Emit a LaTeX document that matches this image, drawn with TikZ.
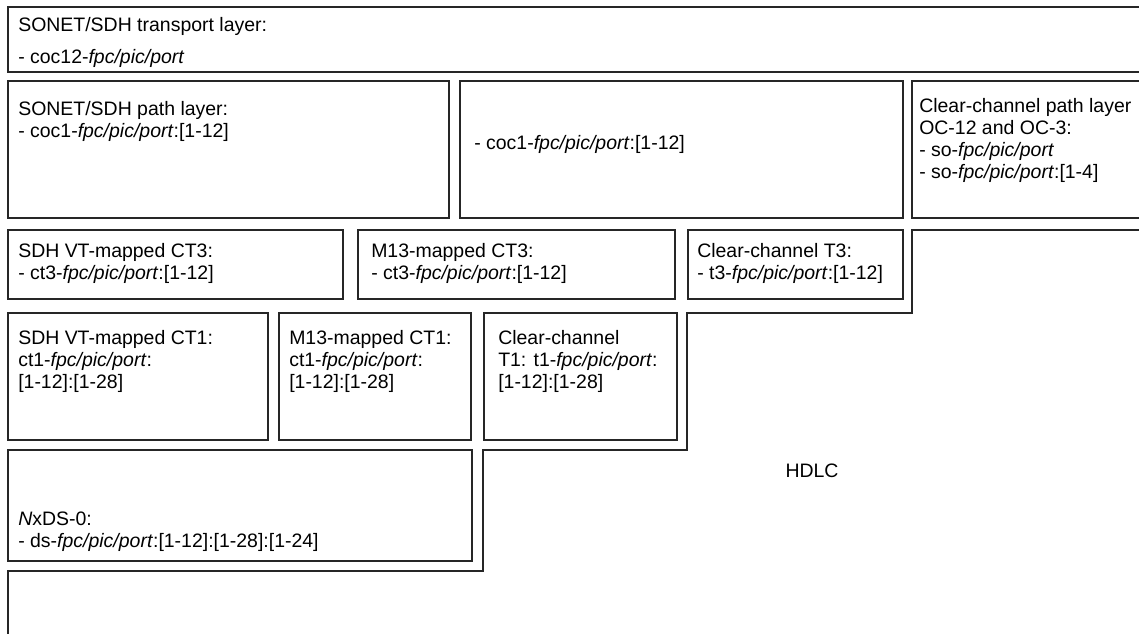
\documentclass[tikz,border=0pt]{standalone}
\usepackage{fontspec}
\setmainfont{Liberation Sans}
\begin{document}
\begin{tikzpicture}[x=0.75pt,y=-0.75pt,
  box/.style={draw=black!85,line width=0.9pt},
  lbl/.style={anchor=base west,inner sep=0pt,font=\fontsize{14.6}{16.5}\selectfont},
]
\newcommand{\fpp}{\textit{fpc/pic/port}}
\useasboundingbox (0,0) rectangle (1139,633);
% boxes
\draw[box] (8,7) rectangle (1150,72);
\draw[box] (8,81) rectangle (449,218);
\draw[box] (460,81) rectangle (903,218);
\draw[box] (912,81) rectangle (1150,218);
\draw[box] (8,230) rectangle (343,299);
\draw[box] (358,230) rectangle (675,299);
\draw[box] (688,230) rectangle (903,299);
\draw[box] (8,313) rectangle (268,440);
\draw[box] (279,313) rectangle (471,440);
\draw[box] (484,313) rectangle (677,440);
\draw[box] (8,450) rectangle (472,561);
% HDLC staircase region
\draw[box] (1150,230) -- (912,230) -- (912,313) -- (687,313) -- (687,450)
  -- (483,450) -- (483,571) -- (8,571) -- (8,645);
% texts
\node[lbl] (tr1) at (18,31) {SONET/SDH transport layer:};
\node[lbl] (tr2) at (18,63) {- coc12-\fpp};
\node[lbl] (pl1) at (18,115) {SONET/SDH path layer:};
\node[lbl] (pl2) at (18,137) {- coc1-\fpp:[1-12]};
\node[lbl] (pm1) at (474,149) {- coc1-\fpp:[1-12]};
\node[lbl] (pr1) at (919,112) {Clear-channel path layer};
\node[lbl] (pr2) at (919,134) {OC-12 and OC-3:};
\node[lbl] (pr3) at (919,156) {- so-\fpp};
\node[lbl] (pr4) at (919,178) {- so-\fpp:[1-4]};
\node[lbl] (a1) at (18,257) {SDH VT-mapped CT3:};
\node[lbl] (a2) at (18,279) {- ct3-\fpp:[1-12]};
\node[lbl] (b1) at (371,257) {M13-mapped CT3:};
\node[lbl] (b2) at (371,279) {- ct3-\fpp:[1-12]};
\node[lbl] (c1) at (697,257) {Clear-channel T3:};
\node[lbl] (c2) at (697,279) {- t3-\fpp:[1-12]};
\node[lbl] (d1) at (18,344) {SDH VT-mapped CT1:};
\node[lbl] (d2) at (18,366) {ct1-\fpp:};
\node[lbl] (d3) at (18,388) {[1-12]:[1-28]};
\node[lbl] (e1) at (289,344) {M13-mapped CT1:};
\node[lbl] (e2) at (289,366) {ct1-\fpp:};
\node[lbl] (e3) at (289,388) {[1-12]:[1-28]};
\node[lbl] (f1) at (498,344) {Clear-channel};
\node[lbl] (f2) at (498,366) {T1: t1-\fpp:};
\node[lbl] (f3) at (498,388) {[1-12]:[1-28]};
\node[lbl] (g1) at (18,525) {\textit{N}xDS-0:};
\node[lbl] (g2) at (18,547) {- ds-\fpp:[1-12]:[1-28]:[1-24]};
\node[inner sep=0pt,font=\fontsize{14.6}{16.5}\selectfont] (hdlc) at (812,471) {HDLC};
\end{tikzpicture}
\end{document}
